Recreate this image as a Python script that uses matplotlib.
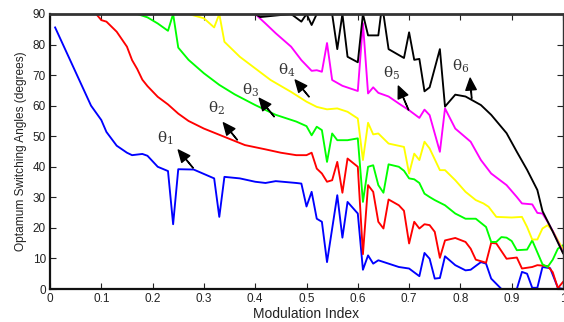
import matplotlib
matplotlib.use("Agg")
import matplotlib.pyplot as plt

plt.rcParams['font.family'] = ['Liberation Sans', 'DejaVu Sans']
plt.rcParams['mathtext.fontset'] = 'custom'
plt.rcParams['mathtext.rm'] = 'DejaVu Serif'
plt.rcParams['mathtext.it'] = 'DejaVu Serif'

# ---- data ----
m1 = [0.01, 0.08, 0.10, 0.11, 0.13, 0.15, 0.16, 0.18, 0.19, 0.21, 0.23, 0.24, 0.25, 0.28, 0.32, 0.33,
      0.34, 0.37, 0.40, 0.42, 0.44, 0.48, 0.49, 0.50, 0.51, 0.52, 0.53, 0.54, 0.56, 0.57, 0.58, 0.60,
      0.61, 0.62, 0.63, 0.64, 0.66, 0.68, 0.70, 0.72, 0.73, 0.74, 0.75, 0.76, 0.77, 0.79, 0.81, 0.82,
      0.84, 0.85, 0.86, 0.88, 0.91, 0.92, 0.93, 0.94, 0.95, 0.96, 0.975, 0.99, 1.00]
theta1 = [85.6, 60.0, 55.3, 51.4, 46.9, 44.6, 43.8, 44.2, 43.6, 40.0, 38.6, 21.2, 39.2, 39.1, 36.2, 23.6,
          36.7, 36.2, 35.1, 34.7, 35.3, 34.7, 34.5, 27.0, 31.8, 23.0, 22.0, 8.8, 30.7, 16.8, 28.5, 24.7,
          6.3, 11.0, 8.3, 9.4, 8.3, 7.2, 6.7, 4.2, 11.8, 9.9, 3.4, 3.6, 10.7, 7.8, 6.1, 6.3,
          8.8, 8.3, 3.4, 0.0, 0.0, 5.6, 5.0, 0.4, 0.4, 7.2, 6.8, 0.4, 0.0]

m2 = [0.01, 0.09, 0.10, 0.11, 0.13, 0.15, 0.16, 0.17, 0.18, 0.19, 0.21, 0.23, 0.25, 0.27, 0.30, 0.34,
      0.38, 0.42, 0.45, 0.48, 0.50, 0.51, 0.52, 0.53, 0.54, 0.55, 0.56, 0.57, 0.58, 0.60, 0.61, 0.62,
      0.63, 0.64, 0.65, 0.66, 0.68, 0.69, 0.70, 0.71, 0.72, 0.73, 0.74, 0.75, 0.76, 0.77, 0.79, 0.81,
      0.82, 0.83, 0.85, 0.86, 0.87, 0.89, 0.91, 0.92, 0.94, 0.95, 0.97, 0.98, 0.99, 1.00]
theta2 = [90.0, 90.0, 88.0, 87.5, 84.2, 79.3, 74.9, 72.0, 68.5, 66.4, 62.9, 60.4, 57.4, 55.0, 52.5, 49.8,
          47.1, 45.7, 44.6, 43.8, 43.8, 44.6, 39.4, 37.8, 35.1, 35.6, 41.6, 31.5, 42.7, 40.0, 11.4, 34.0,
          31.8, 22.0, 19.8, 29.3, 27.4, 25.6, 14.9, 22.0, 19.8, 21.2, 20.9, 18.7, 10.2, 15.9, 16.7, 15.4,
          13.2, 9.6, 8.6, 15.1, 14.9, 9.9, 10.3, 6.7, 7.2, 7.8, 7.5, 5.5, 0.3, 2.3]

m3 = [0.01, 0.17, 0.19, 0.21, 0.23, 0.24, 0.25, 0.27, 0.30, 0.33, 0.36, 0.40, 0.44, 0.48, 0.50, 0.51,
      0.52, 0.53, 0.54, 0.55, 0.56, 0.58, 0.60, 0.61, 0.62, 0.63, 0.64, 0.65, 0.66, 0.68, 0.69, 0.70,
      0.71, 0.72, 0.73, 0.74, 0.75, 0.77, 0.79, 0.81, 0.83, 0.85, 0.86, 0.87, 0.88, 0.89, 0.90, 0.91,
      0.93, 0.94, 0.95, 0.96, 0.97, 0.98, 0.99, 1.00]
theta3 = [90.0, 90.0, 88.9, 86.9, 84.5, 90.0, 79.0, 75.0, 70.6, 66.8, 63.7, 60.2, 57.0, 54.8, 53.3, 50.3,
          53.1, 52.0, 41.6, 50.9, 48.7, 48.7, 49.3, 28.5, 40.0, 40.5, 34.0, 31.5, 40.8, 40.0, 38.7, 36.2,
          35.9, 34.7, 31.2, 30.1, 29.1, 27.4, 24.7, 23.0, 23.0, 20.3, 15.4, 15.4, 17.0, 16.8, 15.7, 12.7,
          12.9, 15.9, 12.0, 8.1, 7.2, 9.6, 13.2, 14.3]

m4 = [0.01, 0.27, 0.30, 0.32, 0.33, 0.34, 0.37, 0.40, 0.43, 0.47, 0.50, 0.52, 0.54, 0.56, 0.58, 0.60,
      0.61, 0.62, 0.63, 0.64, 0.66, 0.69, 0.70, 0.71, 0.72, 0.73, 0.74, 0.76, 0.77, 0.79, 0.81, 0.83,
      0.845, 0.855, 0.87, 0.90, 0.92, 0.93, 0.94, 0.95, 0.96, 0.97, 0.98, 0.99, 1.00]
theta4 = [90.0, 90.0, 88.6, 85.6, 90.0, 80.9, 76.0, 72.2, 68.4, 64.5, 61.3, 59.6, 58.8, 59.1, 58.0, 55.8,
          42.2, 54.4, 50.6, 50.9, 47.6, 46.5, 37.8, 44.3, 42.2, 48.2, 46.0, 38.9, 38.9, 35.6, 31.8, 29.1,
          28.0, 26.9, 23.6, 23.4, 23.6, 20.3, 16.2, 16.2, 19.8, 20.9, 19.0, 16.0, 13.0]

m5 = [0.01, 0.40, 0.42, 0.44, 0.47, 0.49, 0.51, 0.52, 0.53, 0.54, 0.55, 0.57, 0.60, 0.61, 0.62, 0.63,
      0.64, 0.66, 0.68, 0.70, 0.72, 0.73, 0.74, 0.76, 0.77, 0.79, 0.82, 0.84, 0.86, 0.89, 0.91, 0.92,
      0.94, 0.95, 0.96, 0.97, 0.98, 0.99, 1.00]
theta5 = [90.0, 90.0, 86.9, 83.7, 79.3, 74.9, 71.4, 71.6, 71.1, 80.5, 68.4, 66.5, 64.8, 87.0, 64.0, 66.0,
          64.2, 63.0, 60.7, 58.5, 56.0, 58.7, 56.9, 44.9, 59.1, 52.5, 48.2, 42.2, 37.8, 34.0, 30.1, 28.0,
          27.7, 24.9, 24.7, 22.0, 19.0, 15.5, 12.0]

m6 = [0.01, 0.40, 0.41, 0.47, 0.49, 0.50, 0.51, 0.52, 0.55, 0.56, 0.57, 0.58, 0.60, 0.61, 0.62, 0.64,
      0.645, 0.65, 0.66, 0.69, 0.70, 0.71, 0.72, 0.73, 0.74, 0.76, 0.77, 0.79, 0.81, 0.84, 0.86, 0.89,
      0.91, 0.93, 0.95, 0.96, 0.98, 1.00]
theta6 = [90.0, 90.0, 89.0, 90.0, 87.5, 90.0, 86.4, 90.0, 90.0, 78.5, 90.0, 76.0, 74.2, 90.0, 83.0, 83.0,
          89.7, 90.0, 78.5, 75.6, 84.0, 75.0, 75.3, 64.7, 66.0, 78.5, 59.7, 63.6, 63.0, 60.2, 57.0, 51.0,
          44.9, 39.0, 32.4, 25.5, 18.8, 11.7]

series = [(m1, theta1, '#0000ff'), (m2, theta2, '#ff0000'), (m3, theta3, '#00ff00'),
          (m4, theta4, '#ffff00'), (m5, theta5, '#ff00ff'), (m6, theta6, '#000000')]

labels = [r'$\mathrm{\theta}_1$', r'$\mathrm{\theta}_2$', r'$\mathrm{\theta}_3$',
          r'$\mathrm{\theta}_4$', r'$\mathrm{\theta}_5$', r'$\mathrm{\theta}_6$']
label_pos = [(0.224, 49.4), (0.324, 59.2), (0.392, 65.1), (0.462, 71.7), (0.665, 70.7), (0.801, 73.0)]
arrow_head = [(0.250, 45.5), (0.338, 54.4), (0.408, 62.4), (0.478, 68.4), (0.679, 66.4), (0.819, 69.0)]
arrow_tail = [(0.279, 39.6), (0.365, 48.8), (0.437, 56.4), (0.505, 62.9), (0.699, 58.6), (0.822, 62.4)]

xticks = [0, 0.1, 0.2, 0.3, 0.4, 0.5, 0.6, 0.7, 0.8, 0.9, 1]
xticklabels = ['0', '0.1', '0.2', '0.3', '0.4', '0.5', '0.6', '0.7', '0.8', '0.9', '1']
yticks = [0, 10, 20, 30, 40, 50, 60, 70, 80, 90]

# ---- figure ----
fig = plt.figure(figsize=(5.64, 3.22), dpi=100)
ax = fig.add_axes([50 / 564, 33 / 322, 513 / 564, 275 / 322])

for xs, ys, c in series:
    ax.plot(xs, ys, color=c, lw=1.35, clip_on=True)

for lab, lp, hd, tl in zip(labels, label_pos, arrow_head, arrow_tail):
    ax.text(lp[0], lp[1], lab, fontsize=11, ha='center', va='center', color='#333333')
    ax.annotate('', xy=hd, xytext=tl,
                arrowprops=dict(facecolor='black', edgecolor='black', width=0.3,
                                headwidth=7.5, headlength=8.5, shrink=0))

ax.set_xlim(0, 1)
ax.set_ylim(0, 90)
ax.set_xticks(xticks)
ax.set_xticklabels(xticklabels)
ax.set_yticks(yticks)
ax.tick_params(direction='in', length=4, width=0.8, labelsize=8.5, top=True, right=True,
               pad=3, colors='#222222')
for s in ['left', 'bottom']:
    ax.spines[s].set_linewidth(1.6)
    ax.spines[s].set_color('#111111')
ax.spines['top'].set_linewidth(2.0)
ax.spines['top'].set_color('#333333')
ax.spines['right'].set_linewidth(1.0)
ax.spines['right'].set_color('#333333')

ax.set_xlabel('Modulation Index', fontsize=10, labelpad=1, color='#222222')
ax.set_ylabel('Optamum Switching Angles (degrees)', fontsize=8.6, labelpad=4, color='#222222')

fig.savefig('out.png', dpi=100)
